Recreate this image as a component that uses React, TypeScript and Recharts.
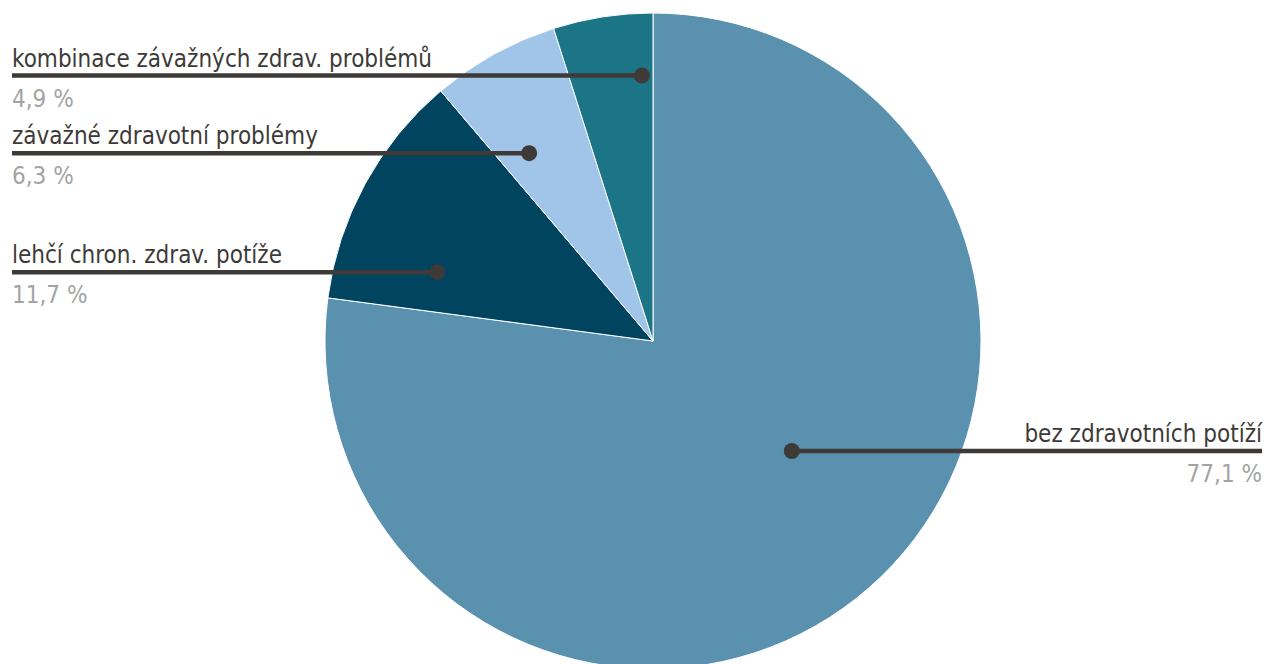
import { PieChart, Pie, Cell } from "recharts";

const categories = [
  "bez zdravotních potíží",
  "lehčí chron. zdrav. potíže",
  "závažné zdravotní problémy",
  "kombinace závažných zdrav. problémů",
];
const shares = [77.1, 11.7, 6.3, 4.9];
const COLORS = ["#5991af", "#00445f", "#a1c5e9", "#1c7586"];

// kde leží tečka popisku: úhel (°) a podíl poloměru
const ANCHORS = [
  { angle: -38.4, r: 0.54, side: "right" },
  { angle: 162.3, r: 0.69, side: "left" },
  { angle: 123.4, r: 0.686, side: "left" },
  { angle: 92.4, r: 0.81, side: "left" },
];

const W = 1267;
const H = 664;
const FONT = "'DejaVu Sans Condensed', 'Liberation Sans Narrow', sans-serif";
const RAD = Math.PI / 180;

const data = categories.map((name, i) => ({ name, value: shares[i] }));

function fmt(v: number) {
  return v.toFixed(1).replace(".", ",") + " %";
}

function renderLabel(props: any) {
  const { cx, cy, outerRadius, index } = props;
  const a = ANCHORS[index];
  const x = cx + outerRadius * a.r * Math.cos(a.angle * RAD);
  const y = cy - outerRadius * a.r * Math.sin(a.angle * RAD);
  const left = a.side === "left";
  const edge = left ? 12 : W - 5;
  return (
    <g key={`lbl-${index}`}>
      <line x1={edge} y1={y} x2={x} y2={y} stroke="#3d3a37" strokeWidth={4.5} />
      <circle cx={x} cy={y} r={8} fill="#3d3a37" />
      <text
        x={edge}
        y={y - 9}
        textAnchor={left ? "start" : "end"}
        fontFamily={FONT}
        fontSize={24}
        fill="#3d3a37"
      >
        {categories[index]}
      </text>
      <text
        x={edge}
        y={y + 31}
        textAnchor={left ? "start" : "end"}
        fontFamily={FONT}
        fontSize={24}
        fill="#a3a3a3"
      >
        {fmt(shares[index])}
      </text>
    </g>
  );
}

export default function App() {
  return (
    <div style={{ width: W, height: H, background: "#fff", overflow: "hidden" }}>
      <style>{`body { margin: 0; overflow: hidden; }`}</style>
      <PieChart width={W} height={H} margin={{ top: 0, right: 0, bottom: 0, left: 0 }}>
        <Pie
          data={data}
          dataKey="value"
          nameKey="name"
          cx={653}
          cy={341}
          outerRadius={328}
          startAngle={90}
          endAngle={-270}
          stroke="#ffffff"
          strokeWidth={1}
          label={renderLabel}
          labelLine={false}
          isAnimationActive={false}
        >
          {data.map((d, i) => (
            <Cell key={d.name} fill={COLORS[i]} />
          ))}
        </Pie>
      </PieChart>
    </div>
  );
}
